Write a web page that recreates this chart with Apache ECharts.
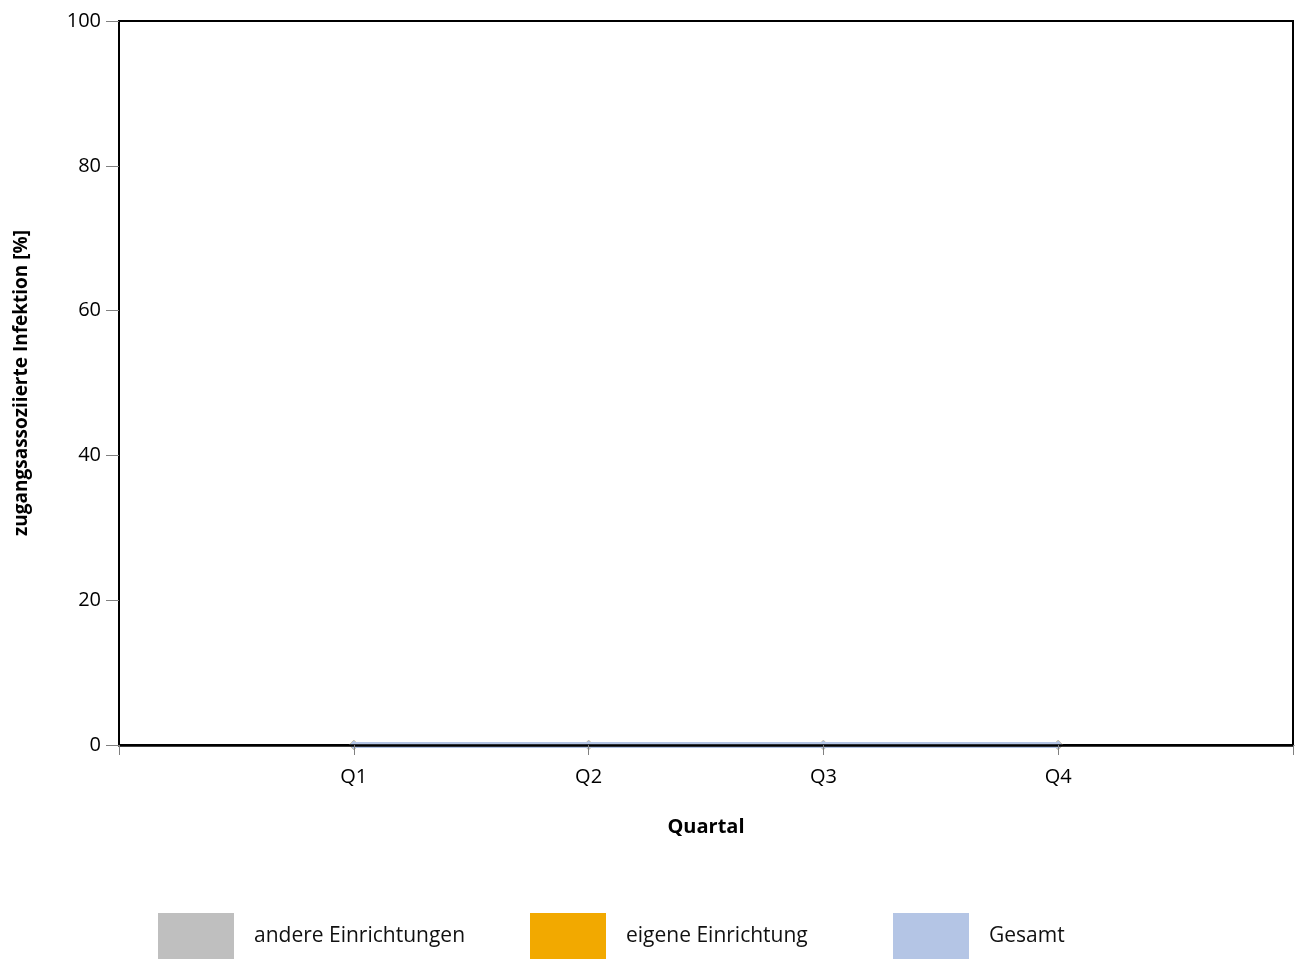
<!DOCTYPE html>
<html>
<head>
<meta charset="utf-8">
<script src="https://cdn.jsdelivr.net/npm/echarts@6/dist/echarts.min.js"></script>
<style>
html,body{margin:0;padding:0;background:#fff;}
#chart{width:1298px;height:960px;}
</style>
</head>
<body>
<div id="chart"></div>
<script>
const categories = ['Q1', 'Q2', 'Q3', 'Q4'];
const yTicks = [0, 20, 40, 60, 80, 100];
const seriesNames = ['andere Einrichtungen', 'eigene Einrichtung', 'Gesamt'];
const andereValues = [0, 0, 0, 0];
const eigeneValues = [0, 0, 0, 0];
const gesamtValues = [0, 0, 0, 0];
const colors = ['#bfbfbf', '#f2a900', '#b4c5e5'];

const font = '"Open Sans", "Noto Sans", sans-serif';
const valuesList = [andereValues, eigeneValues, gesamtValues];

const chart = echarts.init(document.getElementById('chart'), null, {renderer: 'canvas'});

function mkSeries(i) {
  return {
    name: seriesNames[i],
    type: 'line',
    data: valuesList[i].map((v, k) => [k + 1, v]),
    symbol: 'diamond',
    symbolSize: 10,
    showSymbol: true,
    clip: false,
    lineStyle: {color: colors[i], width: 6},
    itemStyle: {color: colors[i]},
    z: 2 + i
  };
}

function mkLegend(i, left) {
  return {
    data: [seriesNames[i]],
    left: left,
    top: 913,
    padding: 0,
    orient: 'horizontal',
    icon: 'rect',
    itemWidth: 76,
    itemHeight: 46,
    selectedMode: false,
    textStyle: {fontFamily: font, fontSize: 21, color: '#111', padding: [0, 0, 0, 15]}
  };
}

chart.setOption({
  backgroundColor: '#fff',
  animation: false,
  color: colors,
  grid: {
    left: 119, right: 5, top: 21, bottom: 215,
    show: true, borderColor: '#000', borderWidth: 2, backgroundColor: 'transparent'
  },
  legend: [mkLegend(0, 158), mkLegend(1, 530), mkLegend(2, 893)],
  xAxis: {
    type: 'value',
    min: 0, max: 5, interval: 1,
    z: 10,
    name: 'Quartal',
    nameLocation: 'middle',
    nameGap: 72,
    nameTextStyle: {fontFamily: font, fontSize: 20, fontWeight: 'bold', color: '#000'},
    axisLine: {show: true, lineStyle: {color: '#000', width: 2.5}},
    axisTick: {show: true, length: 10, lineStyle: {color: '#808080', width: 1}},
    axisLabel: {
      fontFamily: font, fontSize: 20, color: '#000', margin: 22,
      formatter: function (v) { return categories[v - 1] || ''; }
    },
    splitLine: {show: false}
  },
  yAxis: {
    type: 'value',
    min: yTicks[0], max: yTicks[yTicks.length - 1], interval: 20,
    z: 10,
    name: 'zugangsassoziierte Infektion [%]',
    nameLocation: 'middle',
    nameGap: 88,
    nameTextStyle: {fontFamily: font, fontSize: 19, fontWeight: 'bold', color: '#000'},
    axisLine: {show: true, lineStyle: {color: '#000', width: 2}},
    axisTick: {show: true, length: 13, lineStyle: {color: '#808080', width: 1}},
    axisLabel: {fontFamily: font, fontSize: 20, color: '#000', margin: 18},
    splitLine: {show: false}
  },
  series: [mkSeries(0), mkSeries(1), mkSeries(2)]
});
</script>
</body>
</html>
